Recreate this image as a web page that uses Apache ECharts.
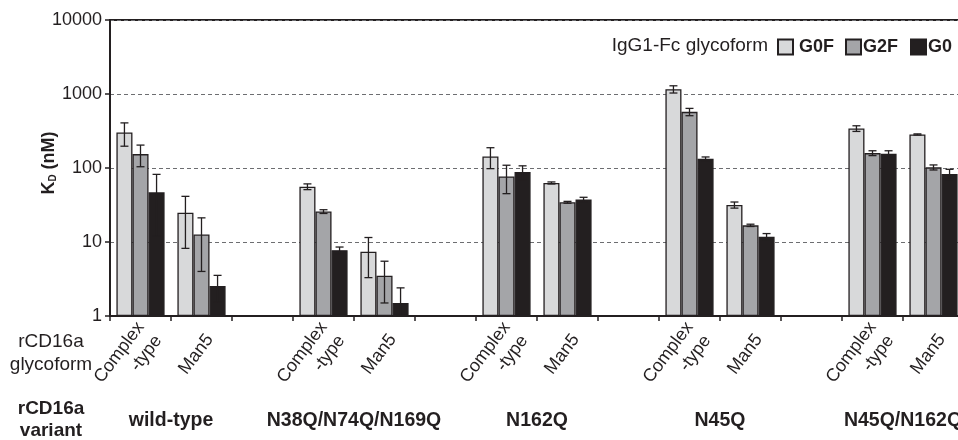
<!DOCTYPE html>
<html><head><meta charset="utf-8">
<script src="https://cdn.jsdelivr.net/npm/echarts@6/dist/echarts.min.js"></script>
<style>html,body{margin:0;padding:0;background:#fff}#c{width:958px;height:440px}</style>
</head><body><div id="c"></div>
<script>
// ---- data ----
const variants = ['wild-type', 'N38Q/N74Q/N169Q', 'N162Q', 'N45Q', 'N45Q/N162Q'];
const glycoforms = ['Complex\n-type', 'Man5'];
const seriesNames = ['G0F', 'G2F', 'G0'];
// order: wt-Complex, wt-Man5, N38Q-Complex, N38Q-Man5, N162Q-C, N162Q-M, N45Q-C, N45Q-M, N45Q/N162Q-C, N45Q/N162Q-M
const g0fValues = [302, 24.8, 56, 7.4, 143, 62.8, 1161, 31.7, 342, 284];
const g0fErrors = [105, 16.6, 5, 4.1, 45, 2, 130, 3, 30, 5];
const g2fValues = [154, 12.6, 25.8, 3.5, 77, 34.4, 574, 16.8, 159, 102];
const g2fErrors = [50, 8.6, 1.5, 2, 32, 1, 65, 0.6, 12, 8];
const g0Values = [47, 2.54, 7.75, 1.5, 88, 37.4, 133, 11.8, 156, 83];
const g0Errors = [35, 1.0, 0.8, 0.9, 19, 2.8, 8, 1.2, 15, 13];
const yTickLabels = ['1', '10', '100', '1000', '10000'];

// ---- build ----
const FONT = '"Liberation Sans", Arial, Helvetica, sans-serif';
const INK = '#231f20';
const colors = ['#d8d9da', '#a4a5a8', '#231f20'];
const labelStyles = [
  { verticalAlign: 'top', padding: [0, 14.2, 0, 0] },
  { verticalAlign: 'top', padding: [13.7, 19.1, 0, 0] }
];
const categories = [];
const slotIndex = [];
variants.forEach((v, vi) => {
  glycoforms.forEach((g, gi) => {
    slotIndex.push(categories.length);
    categories.push({ value: v + '|' + g, textStyle: labelStyles[gi] });
  });
  if (vi < variants.length - 1) categories.push({ value: v + '|' });
});
const variantCenter = {};
variants.forEach((v, vi) => { variantCenter[slotIndex[2 * vi] + 1] = v; });
function toSlots(arr) { const out = categories.map(() => null); arr.forEach((val, i) => { out[slotIndex[i]] = val; }); return out; }
const allValues = [g0fValues, g2fValues, g0Values];
const allErrors = [g0fErrors, g2fErrors, g0Errors];
const CAT_GAP = 0.21;

const series = [];
seriesNames.forEach((name, si) => {
  series.push({
    name: name, type: 'bar', data: toSlots(allValues[si]),
    barGap: '0%', barCategoryGap: (CAT_GAP * 100) + '%',
    itemStyle: { color: colors[si], borderColor: INK, borderWidth: 1.3 },
    z: 2
  });
});
seriesNames.forEach((name, si) => {
  series.push({
    type: 'custom', z: 5, silent: true,
    data: allValues[si].map((v, i) => [slotIndex[i], v, allErrors[si][i]]),
    renderItem: function (params, api) {
      const cat = api.value(0), v = api.value(1), e = api.value(2);
      const band = api.size([1, 1])[0];
      const barW = band * (1 - CAT_GAP) / 3;
      const cx = api.coord([cat, v])[0] + (si - 1) * barW;
      const hi = api.coord([cat, v + e])[1];
      const lo = api.coord([cat, Math.max(v - e, 1)])[1];
      const cap = 4;
      const st = { stroke: INK, lineWidth: 1.3 };
      return { type: 'group', children: [
        { type: 'line', shape: { x1: cx, y1: hi, x2: cx, y2: lo }, style: st },
        { type: 'line', shape: { x1: cx - cap, y1: hi, x2: cx + cap, y2: hi }, style: st },
        { type: 'line', shape: { x1: cx - cap, y1: lo, x2: cx + cap, y2: lo }, style: st }
      ]};
    }
  });
});

const legendBase = {
  top: 38, padding: 0, itemWidth: 15, itemHeight: 15, icon: 'rect', selectedMode: false
};
const legendLefts = [777, 845, 910];
const legendTextPad = [[0, 0, 0, 1], [0, 0, 0, -3], [0, 0, 0, -3]];

const chart = echarts.init(document.getElementById('c'), null, { renderer: 'canvas' });
chart.setOption({
  animation: false,
  textStyle: { fontFamily: FONT, color: INK },
  grid: { left: 110, top: 20, width: 854, height: 296, show: true, borderColor: INK, borderWidth: 2,
    backgroundColor: 'transparent', outerBoundsMode: 'none', containLabel: false },
  legend: seriesNames.map((n, i) => Object.assign({}, legendBase, {
    data: [n], left: legendLefts[i],
    textStyle: { fontFamily: FONT, fontSize: 18, fontWeight: 'bold', color: INK, padding: legendTextPad[i] }
  })),
  graphic: [
    { type: 'text', x: 768, y: 46, style: { text: 'IgG1-Fc glycoform', font: '19px ' + FONT, fill: INK, align: 'right', verticalAlign: 'middle' } },
    { type: 'text', x: 51, y: 353.5, style: { text: 'rCD16a\nglycoform', font: '19px ' + FONT, fill: INK, align: 'center', verticalAlign: 'middle', lineHeight: 23 } },
    { type: 'text', x: 51, y: 420, style: { text: 'rCD16a\nvariant', font: 'bold 19px ' + FONT, fill: INK, align: 'center', verticalAlign: 'middle', lineHeight: 22 } }
  ],
  xAxis: [
    {
      type: 'category', data: categories, position: 'bottom',
      axisLine: { lineStyle: { color: INK, width: 2 } },
      axisTick: { show: true, length: 5, lineStyle: { color: INK, width: 1.5 } },
      axisLabel: {
        interval: 0, rotate: 53, margin: -9.8, fontSize: 18, lineHeight: 22, color: INK, fontFamily: FONT,
        formatter: v => v.split('|')[1] || ''
      },
      splitLine: { show: false }
    },
    {
      type: 'value', min: 0, max: categories.length, interval: 1, position: 'bottom', offset: 90,
      axisLine: { show: false }, axisTick: { show: false }, splitLine: { show: false },
      axisLabel: { margin: 5, fontSize: 19.5, fontWeight: 'bold', color: INK, fontFamily: FONT,
        showMinLabel: true, showMaxLabel: true, hideOverlap: false,
        formatter: v => variantCenter[v] || '' }
    }
  ],
  yAxis: {
    type: 'log', logBase: 10, min: 1, max: 10000,
    name: '{a|K}{b|D}{a| (nM)}', nameLocation: 'middle', nameGap: 52, nameMoveOverlap: false,
    nameTextStyle: { padding: [0, 0, 0, 10], rich: {
      a: { fontSize: 18, fontWeight: 'bold', fontFamily: FONT, color: INK },
      b: { fontSize: 10, fontWeight: 'bold', fontFamily: FONT, color: INK, verticalAlign: 'bottom', padding: [8, 0, 0, 0] }
    } },
    axisLine: { show: true, lineStyle: { color: INK, width: 2 } },
    axisTick: { show: true, length: 5, lineStyle: { color: INK, width: 1.5 } },
    axisLabel: { fontSize: 18, color: INK, fontFamily: FONT, margin: 8,
      formatter: v => yTickLabels.find(t => Number(t) === Math.round(v)) || '' },
    splitLine: { show: true, lineStyle: { color: '#6d6e71', width: 1, type: [4, 3] } }
  },
  series: series
});
</script></body></html>
